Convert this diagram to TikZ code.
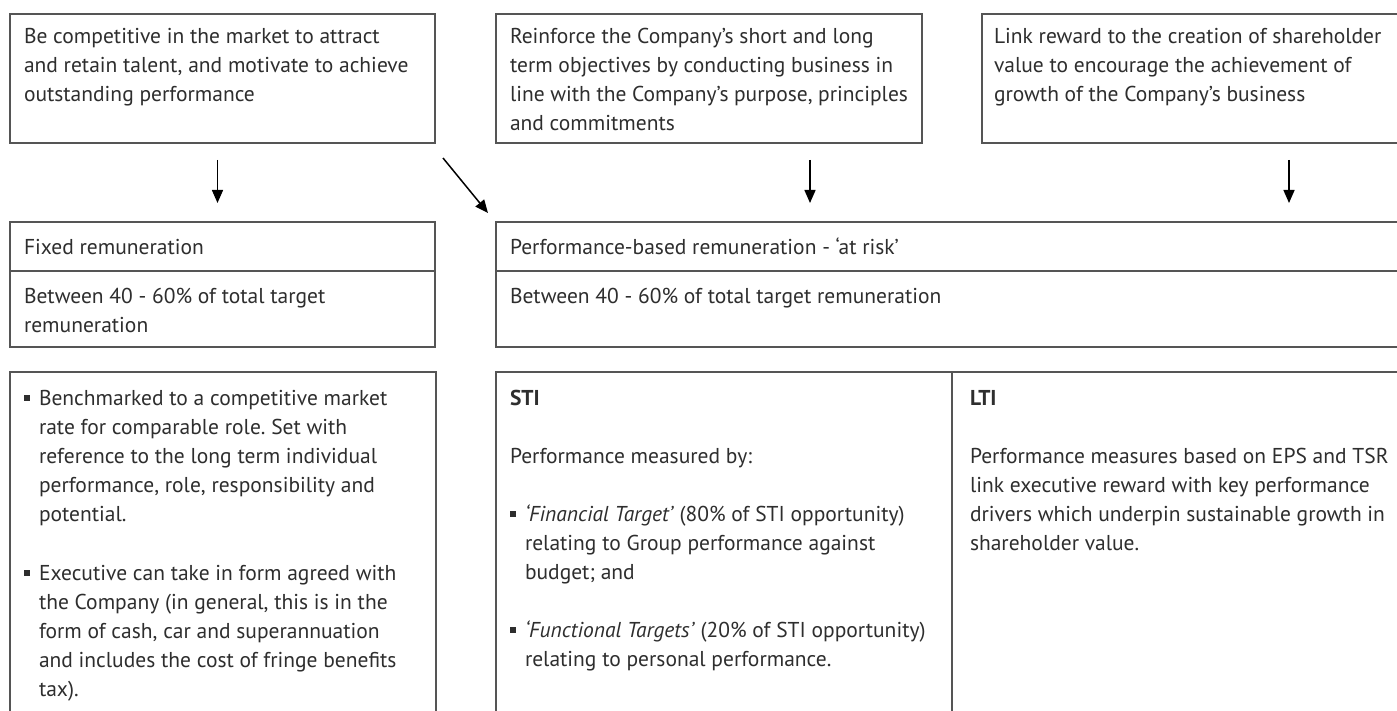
\documentclass[tikz,border=0pt]{standalone}
\usepackage{fontspec}
\setmainfont{PT Sans}
\usetikzlibrary{positioning,arrows.meta}

\definecolor{boxgray}{HTML}{555555}
\definecolor{textgray}{HTML}{2E2E2E}

% square bullet with hanging indent
\newcommand{\sqitem}{\hangindent=15pt\hangafter=1\makebox[15pt][l]{\raisebox{4.5pt}{\rule{5.5pt}{5.5pt}}}}
% fixed size cell: width, height, first baseline, text
\newcommand{\cell}[4]{\parbox[t][#2][t]{#1}{\frenchspacing\rule{0pt}{#3}#4}}

\begin{document}
\begin{tikzpicture}[
  x=1pt, y=-1pt,
  every node/.style={anchor=north west, outer sep=0pt, inner ysep=0pt, inner xsep=14pt,
    text=textgray, font=\fontsize{21.5}{29}\selectfont},
  plainbox/.style={draw=boxgray, line width=1.2pt},
  arrow/.style={-{Triangle[length=13pt,width=11pt]}, line width=1.5pt, black}
]
\useasboundingbox[fill=white] (0,0) rectangle (1397,711);

% Layer 1: objectives
\node[plainbox] (goal1) at (10,14) {\cell{397pt}{129pt}{30pt}{Be competitive in the market to attract\\
  and retain talent, and motivate to achieve\\ outstanding performance}};
\node[plainbox] (goal2) at (496,14) {\cell{398pt}{129pt}{30pt}{Reinforce the Company’s short and long\\
  term objectives by conducting business in\\ line with the Company’s purpose, principles\\ and commitments}};
\node[plainbox, inner xsep=12pt] (goal3) at (982,14) {\cell{404pt}{129pt}{30pt}{Link reward to the creation of shareholder\\
  value to encourage the achievement of\\ growth of the Company’s business}};

% Layer 2: remuneration split
\node[plainbox] (fixhead) at (10,222) {\cell{397pt}{49pt}{33pt}{Fixed remuneration}};
\node[plainbox] (fixbody) at (10,271) {\cell{397pt}{76pt}{32pt}{Between 40 - 60\% of total target\\ remuneration}};
\node[plainbox] (perfhead) at (496,222) {\cell{886pt}{49pt}{33pt}{Performance-based remuneration - ‘at risk’}};
\node[plainbox] (perfbody) at (496,271) {\cell{886pt}{76pt}{32pt}{Between 40 - 60\% of total target remuneration}};

% Layer 3: components
\node[plainbox] (fixdetail) at (10,372) {\cell{398pt}{348pt}{33pt}{\sqitem Benchmarked to a competitive market\\
  rate for comparable role. Set with\\ reference to the long term individual\\
  performance, role, responsibility and\\ potential.\par\vspace{30pt}
  \sqitem Executive can take in form agreed with\\ the Company (in general, this is in the\\
  form of cash, car and superannuation\\ and includes the cost of fringe benefits\\ tax).}};
\node[plainbox] (sti) at (496,372) {\cell{428pt}{348pt}{33pt}{\textbf{STI}\par\vspace{29pt}
  Performance measured by:\par\vspace{29pt}
  \sqitem \textit{‘Financial Target’} (80\% of STI opportunity)\\ relating to Group performance against\\ budget; and\par\vspace{29pt}
  \sqitem \textit{‘Functional Targets’} (20\% of STI opportunity)\\ relating to personal performance.}};
\node[plainbox, inner xsep=18pt] (lti) at (952,372) {\cell{422pt}{348pt}{33pt}{\textbf{LTI}\par\vspace{29pt}
  Performance measures based on EPS and TSR\\ link executive reward with key performance\\
  drivers which underpin sustainable growth in\\ shareholder value.}};

% Arrows
\draw[arrow] ([shift={(-5,17)}]goal1.south) -- ([shift={(-5,-19)}]fixhead.north);
\draw[arrow] ([shift={(8,15)}]goal1.south east) -- ([shift={(-8,-9)}]perfhead.north west);
\draw[arrow] ([shift={(101,17)}]goal2.south) -- ([shift={(-143,-19)}]perfhead.north);
\draw[arrow] ([shift={(93,17)}]goal3.south) -- ([shift={(336,-19)}]perfhead.north);

\end{tikzpicture}
\end{document}
